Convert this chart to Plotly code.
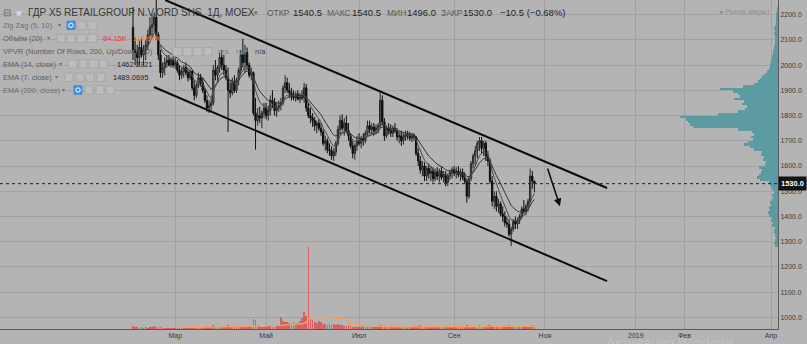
import numpy as np
import pandas as pd
import plotly.graph_objects as go

# ---------------- data ----------------
open_p = [2150,2060,2050,2030,2070,2040,2060,2080,2120,2150,2160,2190,2120,2040,1970,1990,2010,2020,2000,2020,
          2000,2010,1980,1960,1975,1990,1970,1950,1975,1910,1880,1920,1950,1930,1900,1860,1830,1840,1850,1980,
          1960,1990,2030,2000,1980,1950,1900,1890,1930,1900,1940,1980,2040,2010,2050,2000,1960,1970,1810,1780,
          1800,1790,1810,1830,1800,1820,1860,1850,1820,1830,1840,1850,1910,1930,1900,1890,1880,1870,1885,1865,
          1880,1870,1910,1830,1800,1790,1780,1760,1770,1750,1735,1690,1700,1665,1660,1640,1655,1690,1745,1780,
          1750,1770,1740,1720,1680,1650,1680,1700,1690,1710,1700,1730,1760,1745,1755,1740,1750,1760,1860,1775,
          1720,1750,1740,1730,1750,1740,1715,1720,1700,1715,1725,1720,1710,1720,1715,1650,1620,1585,1600,1560,
          1590,1570,1580,1550,1575,1560,1580,1555,1565,1535,1560,1575,1585,1570,1580,1565,1575,1555,1540,1480,
          1550,1610,1640,1660,1690,1700,1670,1690,1640,1620,1540,1460,1480,1440,1450,1410,1400,1375,1370,1330,
          1350,1380,1370,1385,1400,1430,1420,1440,1460,1560,1540.5]
high_p = [2230,2110,2080,2100,2110,2080,2100,2140,2190,2200,2210,2280,2130,2060,2010,2030,2040,2040,2030,2035,
          2030,2020,2000,1990,2000,2010,1990,1985,1980,1940,1930,1970,1965,1950,1910,1880,1860,1870,2000,2020,
          2000,2050,2060,2040,2000,1990,1930,1950,1960,1950,1990,2060,2105,2080,2070,2010,1990,1975,1870,1830,
          1835,1820,1850,1850,1840,1880,1900,1870,1850,1860,1870,1920,1960,1950,1930,1910,1900,1895,1900,1890,
          1900,1930,1925,1850,1830,1810,1795,1780,1785,1770,1745,1720,1710,1690,1680,1670,1700,1760,1800,1805,
          1790,1800,1770,1730,1700,1690,1720,1730,1720,1730,1740,1780,1780,1770,1770,1765,1770,1890,1880,1790,
          1760,1770,1765,1760,1770,1750,1735,1740,1730,1740,1740,1735,1730,1730,1720,1670,1640,1620,1615,1600,
          1610,1600,1595,1590,1595,1590,1600,1580,1580,1570,1585,1595,1600,1595,1600,1590,1590,1575,1550,1560,
          1620,1650,1680,1700,1715,1715,1700,1700,1660,1630,1560,1500,1500,1470,1460,1440,1420,1400,1390,1360,
          1390,1400,1395,1410,1440,1465,1450,1470,1590,1580,1540.5]
low_p = [2020,2000,2000,1995,2030,2000,2020,2060,2100,2110,2130,2100,2020,1950,1950,1960,1990,1995,1990,1990,
         1985,1970,1940,1945,1950,1960,1935,1940,1900,1860,1870,1910,1915,1890,1850,1815,1810,1820,1840,1940,
         1930,1970,1980,1960,1940,1735,1870,1880,1890,1890,1920,1960,1990,1970,1980,1950,1940,1800,1665,1760,
         1770,1750,1790,1785,1780,1800,1830,1800,1795,1815,1820,1840,1890,1890,1870,1860,1860,1855,1860,1850,
         1860,1850,1815,1790,1770,1755,1740,1730,1740,1720,1680,1660,1650,1640,1625,1620,1640,1680,1720,1740,
         1720,1730,1700,1670,1630,1625,1660,1680,1670,1680,1690,1720,1730,1725,1720,1725,1730,1750,1760,1700,
         1710,1725,1715,1715,1730,1700,1690,1680,1685,1700,1705,1700,1695,1700,1640,1600,1570,1560,1540,1540,
         1550,1540,1535,1540,1545,1535,1545,1535,1520,1520,1545,1550,1560,1550,1555,1540,1545,1530,1455,1470,
         1540,1590,1600,1630,1660,1650,1640,1620,1600,1530,1440,1430,1420,1415,1400,1380,1360,1355,1320,1283,
         1340,1350,1350,1370,1390,1410,1405,1420,1455,1510,1496]
close_p = [2060,2050,2030,2070,2040,2060,2080,2120,2150,2160,2190,2120,2040,1970,1990,2010,2020,2000,2020,2000,
           2010,1980,1960,1975,1990,1970,1950,1975,1910,1880,1920,1950,1930,1900,1860,1830,1840,1850,1980,1960,
           1990,2030,2000,1980,1950,1900,1890,1930,1900,1940,1980,2040,2010,2050,2000,1960,1970,1810,1780,1800,
           1790,1810,1830,1800,1820,1860,1850,1820,1830,1840,1850,1910,1930,1900,1890,1880,1870,1885,1865,1880,
           1870,1910,1830,1800,1790,1780,1760,1770,1750,1735,1690,1700,1665,1660,1640,1655,1690,1745,1780,1750,
           1770,1740,1720,1680,1650,1680,1700,1690,1710,1700,1730,1760,1745,1755,1740,1750,1760,1860,1775,1720,
           1750,1740,1730,1750,1740,1715,1720,1700,1715,1725,1720,1710,1720,1715,1650,1620,1585,1600,1560,1590,
           1570,1580,1550,1575,1560,1580,1555,1565,1535,1560,1575,1585,1570,1580,1565,1575,1555,1540,1480,1550,
           1610,1640,1660,1690,1700,1670,1690,1640,1620,1540,1460,1480,1440,1450,1410,1400,1375,1370,1330,1350,
           1380,1370,1385,1400,1430,1420,1440,1460,1560,1540.5,1530]
volume_k = [140,90,70,60,80,50,70,60,80,90, 110,80,100,70,60,50,60,50,40,60,
            70,60,80,90,60,70,100,80,110,90, 70,60,80,70,100,120,90,80,170,110,
            80,90,100,80,90,170,100,80,70,90, 120,140,130,100,90,80,110,420,380,130,
            90,80,100,90,110,120,100,90,110,130, 500,330,290,280,250,220,300,260,240,330,
            470,700,560,3450,410,380,300,250,330,280, 220,200,180,210,160,190,170,200,150,160,
            140,130,150,140,90,80,100,90,80,110, 90,100,80,70,90,100,80,170,120,90,
            80,70,90,100,80,70,90,80,100,70, 80,90,70,80,110,130,170,120,100,90,
            80,70,90,80,70,100,80,90,110,100, 80,70,90,80,70,90,80,100,150,120,
            110,100,90,120,160,110,100,120,150,170, 130,110,120,100,90,110,120,100,150,130,
            110,100,90,120,100,110,90,100,140,160, 84.15]
vp_row_low = 1280
vp_row_step = 10
vp_volume = [3,4,3,2,3,4,4,3,6,5, 7,6,9,10,8,9,7,8,6,5,
             6,4,5,7,8,9,18,21,19,17, 16,19,13,12,15,14,17,16,24,28,
             34,30,25,27,24,26,40,85,88,90, 92,98,60,40,33,31,36,34,44,38,
             40,45,58,35,24,20,18,16,13,11, 9,8,8,7,6,6,5,5,4,4,
             3,3,3,3,4,3,4,3,2,2, 2,2,2,1,1]
first_session = "2018-02-01"
month_starts = ["2018-03-01","2018-05-01","2018-07-01","2018-09-01",
                "2018-11-01","2019-01-01","2019-02-01","2019-04-01"]
month_labels = ["Мар","Май","Июл","Сен","Ноя","2019","Фев","Апр"]
price_ticks = list(range(1000, 2201, 100))
channel_upper_x = [15.2, 224.4]
channel_upper_y = [2258, 1513]
channel_lower_x = [9.9, 224.4]
channel_lower_y = [1913, 1144]
arrow_x = [196.0, 202.1]
arrow_y = [1596, 1441]
last_price = 1530.0

# ---------------- derived ----------------
n = len(close_p)
idx = np.arange(n)
sessions = pd.bdate_range(first_session, "2019-06-28")
tick_idx = [int(sessions.searchsorted(pd.Timestamp(m))) for m in month_starts]

def ema(vals, p):
    out = [None] * len(vals)
    k = 2.0 / (p + 1)
    out[p - 1] = float(np.mean(vals[:p]))
    for j in range(p, len(vals)):
        out[j] = vals[j] * k + out[j - 1] * (1 - k)
    return out

ema14 = ema(close_p, 14)
ema7 = ema(close_p, 7)
vol_ma = pd.Series(volume_k).rolling(20).mean().tolist()
vp_centers = [vp_row_low + vp_row_step * (k + 0.5) for k in range(len(vp_volume))]

BG = "#b4b4b4"
GRID = "#a2a2a2"
FONT = "Liberation Sans, Arial, sans-serif"
W, H = 778.0, 329.0  # plot area in px

fig = go.Figure()
fig.add_trace(go.Bar(y=vp_centers, x=vp_volume, orientation="h", xaxis="x2", yaxis="y",
                     width=vp_row_step * 1.02, marker=dict(color="#5d9ba3", line_width=0),
                     hoverinfo="skip"))
fig.add_trace(go.Bar(x=idx, y=volume_k, yaxis="y2", width=0.8,
                     marker=dict(color="rgba(222,84,84,0.85)", line_width=0), hoverinfo="skip"))
fig.add_trace(go.Scatter(x=idx, y=vol_ma, yaxis="y2", mode="lines",
                         line=dict(color="#f5a35c", width=1.3), hoverinfo="skip"))
fig.add_trace(go.Candlestick(x=idx, open=open_p, high=high_p, low=low_p, close=close_p,
                             whiskerwidth=0,
                             increasing=dict(line=dict(color="#262626", width=1), fillcolor="#858585"),
                             decreasing=dict(line=dict(color="#0e0e0e", width=1), fillcolor="#0e0e0e")))
fig.add_trace(go.Scatter(x=idx, y=ema14, mode="lines", line=dict(color="#333333", width=1)))
fig.add_trace(go.Scatter(x=idx, y=ema7, mode="lines", line=dict(color="#4a4a4a", width=1)))

shapes = []
shapes.append(dict(type="line", xref="x", yref="y", x0=channel_upper_x[0], y0=channel_upper_y[0],
                   x1=channel_upper_x[1], y1=channel_upper_y[1], line=dict(color="#0a0a0a", width=2)))
shapes.append(dict(type="line", xref="x", yref="y", x0=channel_lower_x[0], y0=channel_lower_y[0],
                   x1=channel_lower_x[1], y1=channel_lower_y[1], line=dict(color="#0a0a0a", width=2)))
shapes.append(dict(type="line", xref="paper", yref="y", x0=0, x1=1, y0=last_price, y1=last_price,
                   line=dict(color="#222222", width=1, dash="dot")))

def px(xp):
    return xp / W

def py(yp):
    return 1 - yp / H

# legend icon boxes
boxes = [
    (25.3, [(67, 75, True), (77, 86, False), (88, 97, False)]),
    (38.3, [(57, 65, False), (67, 75, False), (77, 86, False), (88, 97, False)]),
    (51.7, [(173, 182, False), (183, 192, False), (193, 202, False), (204, 212, False)]),
    (64.0, [(68, 77, False), (79, 87, False), (89, 98, False), (99, 107, False)]),
    (77.3, [(65, 73, False), (76, 84, False), (86, 94, False), (97, 105, False)]),
    (90.0, [(74, 82, True), (85, 93, False), (96, 104, False), (106, 114, False)]),
]
for yc, row in boxes:
    for x0, x1, blue in row:
        shapes.append(dict(type="rect", xref="paper", yref="paper", x0=px(x0), x1=px(x1),
                           y0=py(yc + 4.2), y1=py(yc - 4.2),
                           fillcolor="#3f8fd8" if blue else "#bcbcbc",
                           line=dict(color="#3f8fd8" if blue else "#a8a8a8", width=1)))
        if blue:
            cx = (x0 + x1) / 2
            shapes.append(dict(type="circle", xref="paper", yref="paper", x0=px(cx - 2.2), x1=px(cx + 2.2),
                               y0=py(yc + 2.2), y1=py(yc - 2.2), fillcolor="rgba(0,0,0,0)",
                               line=dict(color="white", width=1)))

annotations = []

def txt(x, y, s, size, color, anchor="left", bold=False):
    annotations.append(dict(xref="paper", yref="paper", x=px(x), y=py(y), text=("<b>%s</b>" % s) if bold else s,
                            showarrow=False, xanchor=anchor, yanchor="middle", borderpad=0,
                            font=dict(family=FONT, size=size, color=color)))

txt(2, 12.5, "⊟", 10, "#6a6a6a")
txt(15, 12.5, "■", 9, "#d8d8d8")
txt(27, 12.5, "ГДР X5 RETAILGROUP N.V.ORD SHS, 1Д, MOEX", 10, "#383838")
txt(253, 12.5, "▾", 7, "#6a6a6a")
txt(266, 12.5, "ОТКР", 8.5, "#5a5a5a")
txt(292, 12.5, "1540.5", 9.5, "#262626")
txt(326, 12.5, "МАКС", 8.5, "#5a5a5a")
txt(351, 12.5, "1540.5", 9.5, "#262626")
txt(386, 12.5, "МИН", 8.5, "#5a5a5a")
txt(406, 12.5, "1496.0", 9.5, "#262626")
txt(440, 12.5, "ЗАКР", 8.5, "#5a5a5a")
txt(462, 12.5, "1530.0", 9.5, "#262626")
txt(499, 12.5, "−10.5 (−0.68%)", 9.5, "#262626")

txt(2, 25.3, "Zig Zag (5, 10)", 7.5, "#707070")
txt(57, 25.3, "▾", 6, "#707070")
txt(2, 38.3, "Объём (20)", 7.5, "#5e5e5e")
txt(46, 38.3, "▾", 6, "#707070")
txt(102, 38.3, "84.15K", 7.5, "#e0403c")
txt(132, 38.3, "110.94K", 7.5, "#f08a3a")
txt(2, 51.7, "VPVR (Number Of Rows, 200, Up/Down, 70)", 7.5, "#5e5e5e")
txt(217, 51.7, "n/a", 7.5, "#4f9aa2")
txt(235, 51.7, "n/a", 7.5, "#4f9aa2")
txt(254, 51.7, "n/a", 7.5, "#3e3e3e")
txt(2, 64, "EMA (14, close)", 7.5, "#5e5e5e")
txt(58, 64, "▾", 6, "#707070")
txt(116, 64, "1462.2321", 7.5, "#262626")
txt(2, 77.3, "EMA (7, close)", 7.5, "#5e5e5e")
txt(54, 77.3, "▾", 6, "#707070")
txt(112, 77.3, "1489.0695", 7.5, "#262626")
txt(2, 90, "EMA (200, close)", 7.5, "#707070")
txt(61, 90, "▾", 6, "#707070")

txt(718, 12, "● Рынок закрыт", 7, "#8e8e8e")
txt(605, 343, "Активация Windows", 14, "#c1c1c1")

# current price label on the axis
annotations.append(dict(xref="paper", yref="y", x=1, y=last_price, text="<b>1530.0</b>", showarrow=False,
                        xanchor="left", yanchor="middle", bgcolor="#121212", borderpad=2,
                        font=dict(family=FONT, size=7.5, color="white")))
# drawn arrow
annotations.append(dict(xref="x", yref="y", axref="x", ayref="y", x=arrow_x[1], y=arrow_y[1],
                        ax=arrow_x[0], ay=arrow_y[0], text="", showarrow=True, arrowhead=2,
                        arrowsize=1, arrowwidth=1.5, arrowcolor="#0a0a0a"))

fig.update_layout(
    width=807, height=344,
    margin=dict(l=0, r=29, t=0, b=15),
    paper_bgcolor=BG, plot_bgcolor=BG,
    showlegend=False, hovermode=False,
    font=dict(family=FONT, size=7, color="#333333"),
    xaxis=dict(range=[-62.96, 305.31], tickvals=tick_idx, ticktext=month_labels,
               showgrid=True, gridcolor=GRID, gridwidth=1, zeroline=False,
               showline=True, linecolor="#5a5a5a", linewidth=1, ticks="",
               tickfont=dict(size=7, color="#3a3a3a"), rangeslider=dict(visible=False)),
    yaxis=dict(range=[954, 2258], side="right", tickvals=price_ticks, tickformat=".1f",
               showgrid=True, gridcolor=GRID, gridwidth=1, zeroline=False,
               showline=True, linecolor="#5a5a5a", linewidth=1, ticks="",
               tickfont=dict(size=7, color="#3a3a3a")),
    xaxis2=dict(overlaying="x", anchor="y", range=[W, 0], visible=False),
    yaxis2=dict(overlaying="y", anchor="x", range=[0, 13840], visible=False),
    bargap=0,
    boxgap=0.12,
    shapes=shapes,
    annotations=annotations,
)

fig.write_html("out.html")
